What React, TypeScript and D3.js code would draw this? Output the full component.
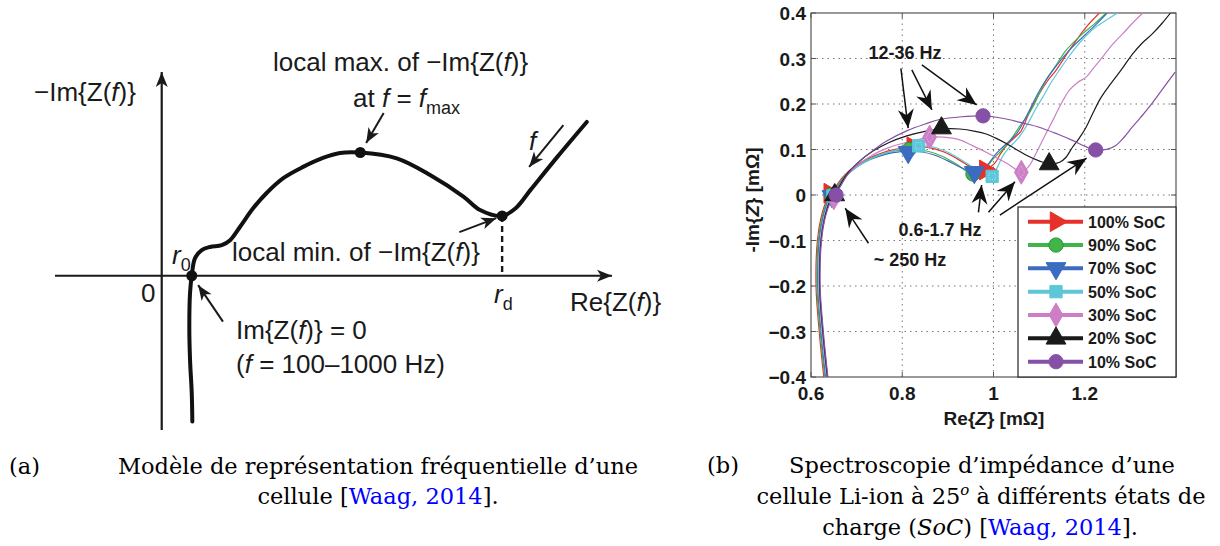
import React from 'react';
import * as d3 from 'd3';

// ---------- (a) schematic curve, arbitrary units (Re, -Im) ----------
const schemCurve: [number, number][] = [
  [0.68, -3.24], [0.667, -2.61], [0.629, -1.87], [0.613, -1.13], [0.629, -0.38],
  [0.667, 0], [0.74, 0.39], [0.889, 0.57], [1.073, 0.64], [1.333, 0.68], [1.518, 0.79],
  [1.74, 1.09], [2.03, 1.5], [2.33, 1.84], [2.7, 2.17], [3.14, 2.42], [3.58, 2.62],
  [3.96, 2.73], [4.41, 2.74], [5.22, 2.61], [5.96, 2.24], [6.7, 1.76], [7.07, 1.46],
  [7.56, 1.33], [7.86, 1.5], [8.2, 1.92], [8.8, 2.66], [9.44, 3.42],
];
const schemDots: [number, number][] = [[0.667, 0], [4.41, 2.74], [7.56, 1.33]];
const schemArrows: [number, number, number, number][] = [
  [4.93, 3.62, 4.54, 2.95],
  [6.61, 0.97, 7.43, 1.28],
  [1.36, -1.02, 0.81, -0.21],
  [8.92, 3.35, 8.16, 2.42],
];

// ---------- (b) impedance spectra, Re / -Im in mOhm ----------
const socLabels = ['100% SoC', '90% SoC', '70% SoC', '50% SoC', '30% SoC', '20% SoC', '10% SoC'];
const socColors = ['#e8302a', '#3fb54a', '#3b6cc0', '#5ec6d9', '#cc7fc6', '#1a1a1a', '#8650a6'];
const socShapes = ['triRight', 'circle', 'triDown', 'square', 'diamond', 'triUp', 'circle'];

const soc100: [number, number][] = [
  [0.628, -0.4], [0.618, -0.3], [0.611, -0.2], [0.614, -0.1], [0.622, -0.05], [0.633, -0.015],
  [0.642, 0.0], [0.652, 0.015], [0.67, 0.04], [0.695, 0.062], [0.725, 0.08], [0.76, 0.094],
  [0.8, 0.103], [0.83, 0.107], [0.86, 0.104], [0.89, 0.095], [0.92, 0.08], [0.95, 0.062],
  [0.975, 0.054], [0.99, 0.06], [1.003, 0.07], [1.015, 0.09], [1.03, 0.11], [1.045, 0.125],
  [1.06, 0.14], [1.071, 0.164], [1.085, 0.195], [1.1, 0.222], [1.118, 0.25], [1.137, 0.274],
  [1.166, 0.318], [1.185, 0.345], [1.203, 0.369], [1.232, 0.4],
];
const soc90: [number, number][] = [
  [0.63, -0.4], [0.62, -0.3], [0.613, -0.2], [0.616, -0.1], [0.624, -0.05], [0.635, -0.015],
  [0.644, 0.0], [0.655, 0.015], [0.672, 0.04], [0.697, 0.062], [0.727, 0.079], [0.762, 0.092],
  [0.8, 0.099], [0.83, 0.1], [0.86, 0.095], [0.89, 0.084], [0.92, 0.067], [0.94, 0.053],
  [0.955, 0.046], [0.97, 0.05], [0.985, 0.062], [1.0, 0.08], [1.02, 0.1], [1.04, 0.125],
  [1.06, 0.155], [1.075, 0.175], [1.086, 0.193], [1.1, 0.222], [1.115, 0.252], [1.137, 0.285],
  [1.159, 0.318], [1.195, 0.354], [1.22, 0.375], [1.247, 0.4],
];
const soc70: [number, number][] = [
  [0.632, -0.4], [0.622, -0.3], [0.615, -0.2], [0.618, -0.1], [0.626, -0.05], [0.637, -0.015],
  [0.646, 0.0], [0.657, 0.015], [0.674, 0.04], [0.7, 0.062], [0.73, 0.078], [0.765, 0.09],
  [0.8, 0.096], [0.813, 0.097], [0.84, 0.095], [0.87, 0.088], [0.9, 0.075], [0.93, 0.06],
  [0.958, 0.05], [0.975, 0.055], [0.99, 0.07], [1.005, 0.09], [1.02, 0.105], [1.05, 0.134],
  [1.071, 0.171], [1.093, 0.215], [1.11, 0.245], [1.13, 0.274], [1.166, 0.318], [1.203, 0.354],
  [1.225, 0.375], [1.249, 0.4],
];
const soc50: [number, number][] = [
  [0.634, -0.4], [0.624, -0.3], [0.617, -0.2], [0.62, -0.1], [0.628, -0.05], [0.639, -0.015],
  [0.648, 0.0], [0.659, 0.015], [0.676, 0.04], [0.702, 0.062], [0.732, 0.08], [0.768, 0.094],
  [0.805, 0.103], [0.835, 0.108], [0.87, 0.105], [0.9, 0.094], [0.93, 0.077], [0.96, 0.058],
  [0.985, 0.045], [0.997, 0.041], [1.008, 0.06], [1.02, 0.085], [1.035, 0.105], [1.05, 0.12],
  [1.065, 0.14], [1.079, 0.164], [1.093, 0.19], [1.108, 0.215], [1.125, 0.245], [1.144, 0.274],
  [1.162, 0.3], [1.181, 0.325], [1.203, 0.35], [1.224, 0.369], [1.245, 0.383], [1.272, 0.4],
];
const soc30: [number, number][] = [
  [0.635, -0.4], [0.625, -0.3], [0.618, -0.2], [0.621, -0.1], [0.629, -0.05], [0.64, -0.015],
  [0.649, 0.0], [0.66, 0.015], [0.677, 0.042], [0.703, 0.066], [0.733, 0.087], [0.77, 0.104],
  [0.81, 0.116], [0.84, 0.123], [0.86, 0.127], [0.89, 0.127], [0.926, 0.121], [0.955, 0.108],
  [0.984, 0.094], [1.01, 0.08], [1.035, 0.066], [1.061, 0.05], [1.079, 0.065], [1.09, 0.085],
  [1.1, 0.105], [1.115, 0.135], [1.13, 0.164], [1.148, 0.2], [1.166, 0.23], [1.185, 0.248],
  [1.203, 0.259], [1.22, 0.28], [1.239, 0.303], [1.26, 0.33], [1.283, 0.354], [1.305, 0.378],
  [1.327, 0.4],
];
const soc20: [number, number][] = [
  [0.636, -0.4], [0.626, -0.3], [0.619, -0.2], [0.622, -0.1], [0.63, -0.05], [0.641, -0.015],
  [0.65, 0.0], [0.661, 0.017], [0.678, 0.045], [0.704, 0.072], [0.735, 0.096], [0.77, 0.115],
  [0.81, 0.13], [0.85, 0.14], [0.886, 0.145], [0.926, 0.145], [0.96, 0.14], [0.984, 0.134],
  [1.005, 0.125], [1.028, 0.113], [1.05, 0.1], [1.071, 0.088], [1.1, 0.075], [1.122, 0.068],
  [1.145, 0.072], [1.159, 0.083], [1.173, 0.105], [1.188, 0.125], [1.203, 0.149], [1.218, 0.18],
  [1.232, 0.208], [1.25, 0.235], [1.268, 0.259], [1.287, 0.285], [1.305, 0.31], [1.325, 0.333],
  [1.348, 0.354], [1.37, 0.378], [1.388, 0.4],
];
const soc10: [number, number][] = [
  [0.637, -0.4], [0.627, -0.3], [0.62, -0.2], [0.623, -0.1], [0.631, -0.05], [0.643, -0.015],
  [0.653, 0.0], [0.664, 0.018], [0.68, 0.045], [0.705, 0.073], [0.735, 0.097], [0.765, 0.118],
  [0.812, 0.142], [0.85, 0.156], [0.882, 0.166], [0.93, 0.172], [0.977, 0.174], [1.0, 0.172],
  [1.028, 0.167], [1.065, 0.158], [1.1, 0.149], [1.14, 0.134], [1.173, 0.12], [1.2, 0.107],
  [1.224, 0.099], [1.25, 0.101], [1.268, 0.109], [1.287, 0.128], [1.304, 0.149], [1.322, 0.17],
  [1.341, 0.193], [1.37, 0.232], [1.398, 0.27],
];
const socSeries = [soc100, soc90, soc70, soc50, soc30, soc20, soc10];

// markers at ~250 Hz, 12-36 Hz and 0.6-1.7 Hz
const socMarks: [number, number][][] = [
  [[0.641, 0.004], [0.823, 0.106], [0.982, 0.055]],
  [[0.644, 0.0], [0.815, 0.1], [0.955, 0.046]],
  [[0.646, -0.003], [0.813, 0.094], [0.958, 0.05]],
  [[0.648, -0.002], [0.836, 0.108], [0.997, 0.041]],
  [[0.65, -0.006], [0.86, 0.127], [1.061, 0.05]],
  [[0.652, 0.0], [0.886, 0.147], [1.122, 0.068]],
  [[0.655, 0.0], [0.977, 0.174], [1.224, 0.099]],
];

const xTicksB = [0.6, 0.8, 1, 1.2];
const yTicksB = [-0.4, -0.3, -0.2, -0.1, 0, 0.1, 0.2, 0.3, 0.4];

const freqArrows: [number, number, number, number][] = [
  [0.797, 0.278, 0.813, 0.147],
  [0.821, 0.275, 0.865, 0.187],
  [0.843, 0.286, 0.963, 0.198],
  [0.967, -0.038, 0.974, 0.022],
  [0.989, -0.038, 1.047, 0.029],
  [1.014, -0.044, 1.204, 0.081],
  [0.726, -0.106, 0.675, -0.029],
];

function symbolPath(shape: string, size: number) {
  const t =
    shape === 'circle' ? d3.symbolCircle :
    shape === 'square' ? d3.symbolSquare :
    shape === 'diamond' ? d3.symbolDiamond : d3.symbolTriangle;
  return d3.symbol().type(t).size(size)() as string;
}
function symbolRot(shape: string) {
  return shape === 'triRight' ? 90 : shape === 'triDown' ? 180 : 0;
}
function symbolSize(shape: string) {
  return shape === 'square' ? 150 : shape === 'circle' ? 160 : shape === 'diamond' ? 165 : 170;
}

const It = ({ children }: { children: React.ReactNode }) => (
  <tspan fontStyle="italic">{children}</tspan>
);

export default function App() {
  // panel (a)
  const xA = d3.scaleLinear().domain([-2.37, 10]).range([55, 612]);
  const yA = d3.scaleLinear().domain([-3.43, 4.53]).range([430, 72]);
  const lineA = d3.line<[number, number]>().x(d => xA(d[0])).y(d => yA(d[1])).curve(d3.curveCatmullRom);

  // panel (b)
  const xB = d3.scaleLinear().domain([0.6, 1.4]).range([811, 1176]);
  const yB = d3.scaleLinear().domain([-0.4, 0.4]).range([377, 13]);
  const lineB = d3.line<[number, number]>().x(d => xB(d[0])).y(d => yB(d[1])).curve(d3.curveCatmullRom);

  const fA = { fontFamily: 'Liberation Sans, Arial, sans-serif', fontSize: 26, fill: '#1a1a1a' };
  const fB = { fontFamily: 'Liberation Sans, Arial, sans-serif', fontWeight: 700, fill: '#1a1a1a' };
  const fC = { fontFamily: 'DejaVu Serif, serif', fontSize: 22.5, fill: '#000' };
  const blue = '#0000ff';

  const legY = d3.scaleLinear().domain([0, 6]).range([221.7, 361.7]);

  return (
    <svg width={1220} height={546} style={{ position: 'absolute', left: 0, top: 0, background: '#fff' }}>
      <defs>
        <marker id="arrA" viewBox="-16 -8 18 16" markerWidth={18} markerHeight={16} refX={0} refY={0}
          orient="auto" markerUnits="userSpaceOnUse">
          <path d="M0,0 L-15,-6 L-11,0 L-15,6 Z" fill="#1a1a1a" />
        </marker>
        <marker id="arrB" viewBox="-20 -9 22 18" markerWidth={22} markerHeight={18} refX={0} refY={0}
          orient="auto" markerUnits="userSpaceOnUse">
          <path d="M0,0 L-19,-8 L-13,0 L-19,8 Z" fill="#111" />
        </marker>
        <clipPath id="clipB">
          <rect x={811} y={13} width={365} height={364} />
        </clipPath>
      </defs>

      {/* ---------- panel (a) ---------- */}
      <g>
        <line x1={xA(-2.37)} x2={xA(10)} y1={yA(0)} y2={yA(0)} stroke="#1a1a1a" strokeWidth={2.2} markerEnd="url(#arrA)" />
        <line x1={xA(0)} x2={xA(0)} y1={yA(-3.43)} y2={yA(4.53)} stroke="#1a1a1a" strokeWidth={2.2} markerEnd="url(#arrA)" />
        <line x1={xA(7.56)} x2={xA(7.56)} y1={yA(1.33)} y2={yA(0)} stroke="#1a1a1a" strokeWidth={2.4} strokeDasharray="6,4" />
        <path d={lineA(schemCurve) ?? ''} fill="none" stroke="#111" strokeWidth={4} strokeLinecap="round" />
        {schemDots.map((d, i) => (
          <circle key={i} cx={xA(d[0])} cy={yA(d[1])} r={5.5} fill="#111" />
        ))}
        {schemArrows.map((a, i) => (
          <line key={i} x1={xA(a[0])} y1={yA(a[1])} x2={xA(a[2])} y2={yA(a[3])}
            stroke="#1a1a1a" strokeWidth={2} markerEnd="url(#arrA)" />
        ))}
        <text {...fA} x={34} y={101}>−Im{'{'}Z(<It>f</It>){'}'}</text>
        <text {...fA} x={141} y={302}>0</text>
        <text {...fA} x={172} y={264}><It>r</It><tspan fontSize={18} dy={7}>0</tspan></text>
        <text {...fA} x={232} y={261}>local min. of −Im{'{'}Z(<It>f</It>){'}'}</text>
        <text {...fA} x={273} y={71}>local max. of −Im{'{'}Z(<It>f</It>){'}'}</text>
        <text {...fA} x={353} y={107}>at <It>f</It> = <It>f</It><tspan fontSize={18} dy={7}>max</tspan></text>
        <text {...fA} x={494} y={303}><It>r</It><tspan fontSize={18} dy={7}>d</tspan></text>
        <text {...fA} x={570} y={311}>Re{'{'}Z(<It>f</It>){'}'}</text>
        <text {...fA} x={529} y={150}><It>f</It></text>
        <text {...fA} x={236} y={339}>Im{'{'}Z(<It>f</It>){'}'} = 0</text>
        <text {...fA} x={236} y={373}>(<It>f</It> = 100–1000 Hz)</text>
      </g>

      {/* ---------- panel (b) ---------- */}
      <g>
        {xTicksB.slice(1).map(t => (
          <line key={'gx' + t} x1={xB(t)} x2={xB(t)} y1={yB(-0.4)} y2={yB(0.4)} stroke="#777" strokeWidth={1} strokeDasharray="1.5,4" />
        ))}
        {yTicksB.slice(1, -1).map(t => (
          <line key={'gy' + t} x1={xB(0.6)} x2={xB(1.4)} y1={yB(t)} y2={yB(t)} stroke="#777" strokeWidth={1} strokeDasharray="1.5,4" />
        ))}
        <rect x={811} y={13} width={365} height={364} fill="none" stroke="#555" strokeWidth={1.2} />
        {xTicksB.map(t => (
          <g key={'tx' + t}>
            <line x1={xB(t)} x2={xB(t)} y1={377} y2={372} stroke="#555" />
            <line x1={xB(t)} x2={xB(t)} y1={13} y2={18} stroke="#555" />
            <text {...fB} fontSize={19} x={xB(t)} y={400} textAnchor="middle">{d3.format('~g')(t)}</text>
          </g>
        ))}
        {yTicksB.map(t => (
          <g key={'ty' + t}>
            <line x1={811} x2={816} y1={yB(t)} y2={yB(t)} stroke="#555" />
            <line x1={1176} x2={1171} y1={yB(t)} y2={yB(t)} stroke="#555" />
            <text {...fB} fontSize={19} x={806} y={yB(t) + 7} textAnchor="end">{d3.format('~g')(t)}</text>
          </g>
        ))}
        <text {...fB} fontSize={19} x={994} y={425} textAnchor="middle">Re{'{'}<It>Z</It>{'}'} [mΩ]</text>
        <text {...fB} fontSize={19} transform="translate(759,200) rotate(-90)" textAnchor="middle">-Im{'{'}<It>Z</It>{'}'} [mΩ]</text>

        <g clipPath="url(#clipB)">
          {socSeries.map((s, i) => (
            <path key={'l' + i} d={lineB(s) ?? ''} fill="none" stroke={socColors[i]} strokeWidth={1.2} />
          ))}
          {socMarks.map((ms, i) =>
            ms.map((m, j) => (
              <g key={'m' + i + '-' + j} transform={`translate(${xB(m[0])},${yB(m[1])}) rotate(${symbolRot(socShapes[i])})`}>
                <path d={symbolPath(socShapes[i], symbolSize(socShapes[i]))} fill={socColors[i]}
                  stroke={i === 1 ? '#2d8f3a' : socColors[i]} strokeWidth={1} />
                {(socShapes[i] === 'square' || socShapes[i] === 'diamond') && (
                  <path d={symbolPath(socShapes[i], 40)} fill="none" stroke="#fff" strokeOpacity={0.6} strokeWidth={0.8} strokeDasharray="1,1.5" />
                )}
              </g>
            ))
          )}
        </g>

        {freqArrows.map((a, i) => (
          <line key={'fa' + i} x1={xB(a[0])} y1={yB(a[1])} x2={xB(a[2])} y2={yB(a[3])}
            stroke="#111" strokeWidth={1.5} markerEnd="url(#arrB)" />
        ))}
        <text {...fB} fontSize={18} x={905} y={59} textAnchor="middle">12-36 Hz</text>
        <text {...fB} fontSize={18} x={940} y={236} textAnchor="middle">0.6-1.7 Hz</text>
        <text {...fB} fontSize={18} x={910} y={266} textAnchor="middle">~ 250 Hz</text>

        {/* legend */}
        <rect x={1018} y={207} width={158} height={170} fill="#fff" stroke="#222" strokeWidth={1.2} />
        {socLabels.map((lab, i) => (
          <g key={'lg' + i}>
            <line x1={1028} x2={1083} y1={legY(i)} y2={legY(i)} stroke={socColors[i]} strokeWidth={4} />
            <g transform={`translate(1056,${legY(i)}) rotate(${symbolRot(socShapes[i])})`}>
              <path d={symbolPath(socShapes[i], symbolSize(socShapes[i]))} fill={socColors[i]}
                stroke={i === 1 ? '#2d8f3a' : socColors[i]} strokeWidth={1} />
            </g>
            <text {...fB} fontSize={16} x={1088} y={legY(i) + 6}>{lab}</text>
          </g>
        ))}
      </g>

      {/* ---------- captions ---------- */}
      <text {...fC} x={9} y={474}>(a)</text>
      <text {...fC} x={378} y={474} textAnchor="middle">Modèle de représentation fréquentielle d’une</text>
      <text {...fC} x={378} y={504} textAnchor="middle">cellule [<tspan fill={blue}>Waag, 2014</tspan>].</text>

      <text {...fC} x={707} y={473}>(b)</text>
      <text {...fC} x={982} y={473} textAnchor="middle">Spectroscopie d’impédance d’une</text>
      <text {...fC} x={981} y={504} textAnchor="middle">cellule Li-ion à 25<tspan fontSize={15} dy={-9} fontStyle="italic">o</tspan><tspan dy={9}> à différents états de</tspan></text>
      <text {...fC} x={980} y={535} textAnchor="middle">charge (<It>SoC</It>) [<tspan fill={blue}>Waag, 2014</tspan>].</text>
    </svg>
  );
}
